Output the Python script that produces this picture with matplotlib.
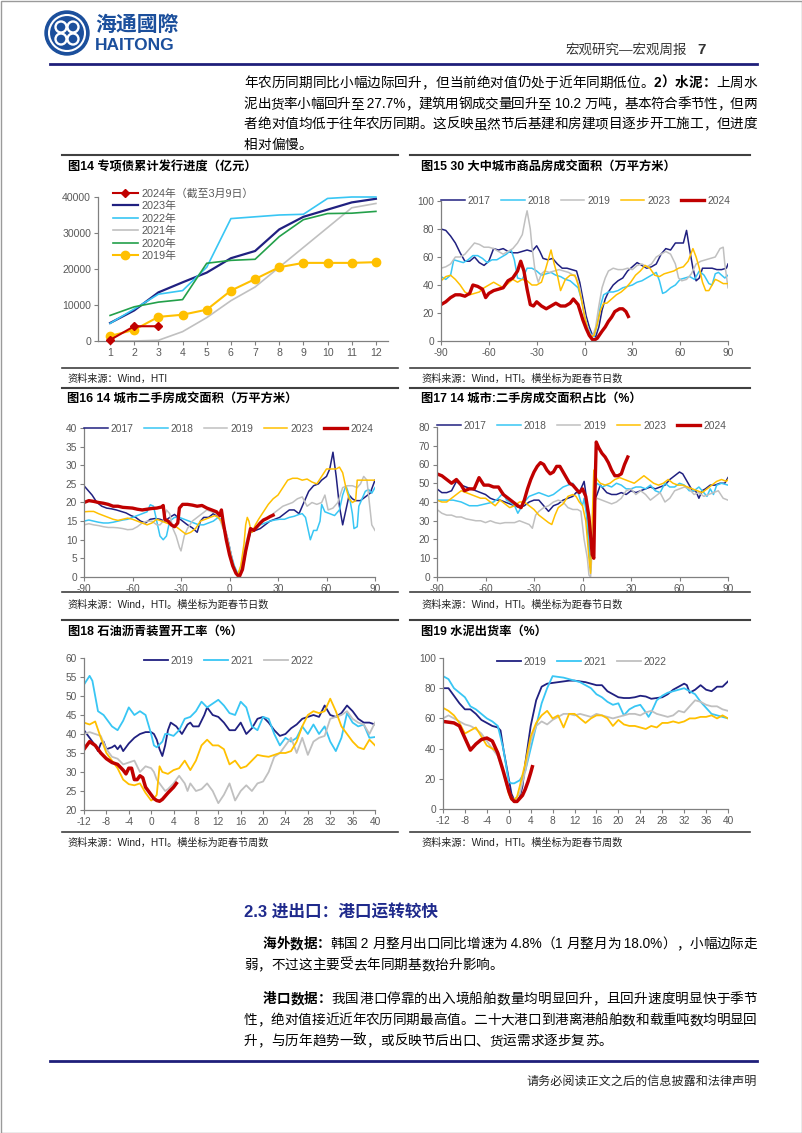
import matplotlib
matplotlib.use('Agg')
import matplotlib.pyplot as plt
from matplotlib.patches import Circle, Rectangle

plt.rcParams['font.family'] = ['Liberation Sans', 'Noto Sans CJK SC']
plt.rcParams['axes.unicode_minus'] = False

W, H = 802, 1133
NAVY = '#202080'
CYAN = '#38C6F4'
GRAY = '#C0C0C0'
YELLOW = '#FFC000'
RED = '#C00000'
GREEN = '#23A04A'
TXT = '#595959'

# ---- 图14 专项债累计发行进度 (亿元), x = 月份
months = list(range(1, 13))
bond_2024_m = [1, 2, 3]
bond_2024 = [300, 4100, 4100]
bond_2023 = [5000, 8500, 13500, 16300, 19000, 23000, 25000, 31000, 34500, 36500, 38500, 39500]
bond_2022 = [4900, 8900, 13000, 14000, 20500, 34000, 34500, 35000, 35200, 39600, 40000, 40000]
bond_2021 = [0, 0, 200, 2600, 6500, 11200, 15000, 20500, 26000, 31500, 37000, 38200]
bond_2020 = [7100, 9500, 10800, 11500, 21600, 22400, 22700, 29000, 33700, 35400, 35500, 36000]
bond_2019 = [1400, 3100, 6700, 7300, 8700, 14000, 17200, 20500, 21700, 21700, 21700, 21900]

# ---- 图15 30大中城市商品房成交面积, x = 距春节日数
c15_x17 = [-90,-87,-84,-81,-78,-75,-72,-69,-66,-63,-60,-57,-54,-51,-48,-45,-42,-39,-36,-33,-30,-28,-26,-23,-20,-17,-14,-11,-8,-5,-3,-1,1,3,5,7,9,11,13,15,18,21,24,27,30,33,36,39,42,45,48,51,54,57,60,62,64,66,68,70,72,74,77,80,83,86,89,90]
c15_y17 = [80,79,75,70,63,57,57,60,56,54,57,66,65,66,64,63,63,64,65,64,68,64,59,58,59,55,52,52,51,50,42,30,18,10,4,3,10,22,30,35,40,43,45,50,53,56,54,52,53,55,62,66,65,70,70,70,79,65,52,43,45,52,52,52,51,51,52,55]
c15_x18 = [-90,-87,-84,-82,-79,-76,-73,-70,-67,-64,-61,-58,-55,-52,-49,-46,-44,-42,-39,-36,-33,-30,-27,-24,-21,-18,-15,-12,-9,-6,-4,-2,0,2,4,6,8,10,12,15,18,21,24,27,30,33,36,39,42,45,47,49,51,54,57,60,63,66,69,72,75,78,80,82,84,86,88,90]
c15_y18 = [46,44,47,58,57,56,58,61,61,59,56,58,58,60,62,65,58,45,44,52,52,50,47,48,49,47,46,44,43,40,38,30,18,10,5,3,12,25,33,35,35,36,38,39,40,42,43,45,47,49,43,34,35,38,40,44,45,46,44,50,47,41,40,48,49,47,45,47]
c15_x19 = [-90,-87,-84,-81,-78,-75,-72,-69,-66,-63,-60,-57,-54,-51,-48,-45,-42,-39,-37,-36,-34,-33,-31,-29,-27,-25,-22,-19,-16,-13,-10,-7,-5,-3,-1,1,3,5,7,9,11,13,15,18,21,24,27,30,33,36,39,42,45,48,51,54,57,59,61,64,67,70,73,76,79,82,85,87,88,90]
c15_y19 = [52,53,55,60,60,62,66,70,69,67,67,66,64,62,64,66,70,76,88,93,80,68,50,42,48,50,49,50,51,50,49,47,45,38,25,14,6,3,10,25,38,45,50,52,51,51,52,51,54,55,53,55,60,62,64,62,55,45,43,44,48,55,57,58,59,60,66,67,55,38]
c15_x23 = [-90,-87,-84,-81,-78,-75,-72,-69,-66,-63,-60,-57,-54,-51,-48,-45,-42,-39,-36,-33,-30,-27,-25,-23,-21,-19,-17,-15,-12,-9,-6,-4,-2,0,2,4,6,8,10,12,14,17,20,23,26,29,32,35,38,41,44,47,50,53,56,59,62,65,68,70,72,74,76,78,80,82,84,87,90]
c15_y23 = [43,46,47,44,40,35,33,34,35,38,40,42,40,38,41,44,42,44,43,40,40,42,49,57,65,55,47,36,44,47,47,40,30,18,8,3,4,12,22,27,27,30,33,35,38,42,47,50,54,52,47,46,48,49,50,52,53,57,66,60,52,42,36,36,40,44,43,41,41]
c15_x24 = [-90,-87,-84,-81,-78,-75,-72,-70,-67,-64,-62,-60,-57,-54,-51,-48,-45,-42,-40,-38,-36,-34,-32,-30,-27,-24,-21,-18,-15,-12,-9,-7,-4,-1,1,3,5,6,8,11,13,15,17,19,22,24,26,27.5]
c15_y24 = [26,28,31,33,33,32,34,40,39,37,31,34,36,37,38,43,45,50,57,50,37,26,25,28,25,23,25,27,25,25,27,30,26,15,9,4,1,0.5,2,7,10,14,17,21,23,23,21,17.5]

# ---- 图16 14城市二手房成交面积
c16_x17 = [-90,-88,-85,-82,-79,-76,-73,-70,-67,-64,-61,-58,-55,-52,-49,-46,-43,-40,-37,-34,-32,-29,-26,-23,-20,-18,-16,-13,-10,-7,-5,-3,-1,1,3,5,7,9,11,13,16,19,22,25,28,31,34,37,40,43,46,49,52,55,57,60,62,64,66,68,70,72,74,76,78,81,84,87,90]
c16_y17 = [24.5,23.5,22,20,19,18.5,18.3,18,17.6,17.2,16.5,16,15,14.5,15.5,15.7,15.5,15,16,16.8,16,15,14,13.2,12,15,16,16,17,16,15,13,10,6,2,0.5,1,4,9,12,12.5,13,14,15,15.5,16,17,18,18,17,20,23,24.5,25,26,27,29,33.5,27,19,14,18,22,21,20.5,20.5,21.5,22.5,26]
c16_x18 = [-90,-87,-84,-81,-78,-75,-72,-69,-66,-63,-60,-57,-54,-51,-49,-47,-45,-43,-41,-39,-37,-34,-31,-28,-25,-22,-19,-16,-13,-10,-7,-5,-3,-1,1,3,5,7,9,11,13,16,19,22,25,28,31,34,37,40,43,45,47,48,50,52,54,56,57,59,62,65,68,70,72,74,76,77,79,80,82,84,86,88,90]
c16_y18 = [15,15.3,15,14.7,14.5,14.5,14.7,15,15.3,15.5,16,16.5,17,17.5,19.4,19,15,11,10,11,15,16,16,15.5,15,14.5,14,14,14.5,15,16,15.5,13,10,6,3,1,2,5,9,12,13,14,14.5,15,15.3,15.5,15.5,16,16.3,16.8,17,16,14,10,12.5,12.5,15,19.5,17.5,17,16.5,18,22,24.5,22,17,13,13.5,19,21,23,23.5,22.5,24]
c16_x19 = [-90,-87,-84,-81,-78,-75,-72,-69,-66,-63,-60,-57,-54,-51,-48,-45,-43,-41,-39,-37,-35,-33,-31,-30,-28,-26,-23,-20,-17,-14,-11,-8,-6,-4,-2,0,2,4,6,8,10,12,15,18,21,24,27,30,33,36,39,42,45,48,51,54,57,59,61,64,67,70,73,76,79,81,83,85,86,88,90]
c16_y19 = [14,14.3,14,13.8,13.5,13.3,13.3,13.2,13,12.7,12.8,13.5,14.5,15,15,14,14,15,18,17,13,11,8,7,11,13,15,16,17,18,17.5,17,15.5,13,12,8,4,1,1,5,9,12,13,14,15,16,17,18,19,19.5,20,21,21.5,19,20,19.5,20,22,18,18.5,20,24,24.5,24.5,24,25,27,26,22,14,12.5]
c16_x23 = [-90,-87,-84,-81,-78,-75,-72,-69,-66,-63,-60,-57,-54,-51,-48,-45,-42,-39,-36,-33,-30,-27,-24,-21,-18,-15,-12,-9,-7,-5,-3,-1,1,3,5,7,9,10,11,12,13,14,16,18,21,24,27,30,33,36,39,42,45,48,51,54,57,60,63,66,68,70,72,74,76,78,79,81,84,87,90]
c16_y23 = [17.5,17.6,17.6,17,16.5,16,15.5,15.2,15.5,15.8,15.5,15,14.5,14,14.5,15.5,15,14.5,14,13.5,12.5,11.5,12,13,15,15.5,16,16.5,16,15,12,9,5,2,0.5,3,9,14,16,15,13,12,14,15.5,17.5,19.5,21,22,24,26,26.5,26.5,26,26.3,25.5,25,27,29,29,29,29.5,28,24,21,20,20.5,26,26,26,26,26]
c16_x24 = [-90,-87,-84,-81,-78,-75,-72,-69,-66,-63,-60,-57,-54,-51,-48,-45,-42,-41,-40,-38,-36,-34,-32,-31,-29,-26,-23,-20,-17,-14,-11,-8,-6,-5,-4,-2,0,2,4,6,8,10,12,13,15,17,19,21,23,25,27]
c16_y24 = [20,20.5,20.3,20,19.8,19.5,19,19,18.7,18.6,18.5,18.2,18,18.2,18.4,18.5,18.8,19.2,15.5,15,14,13.5,14.5,18.5,19.5,19.5,19.3,19,19.2,18.5,18,17.5,16.5,18,15,10,6,3,1,0,2,7,11,13,12.5,13.5,14.5,15.3,15.7,16.2,16.6]

# ---- 图17 14城市二手房成交面积占比
c17_x17 = [-90,-87,-84,-81,-78,-75,-72,-69,-66,-63,-60,-57,-54,-51,-48,-45,-42,-39,-36,-33,-30,-27,-24,-21,-18,-15,-12,-9,-6,-4,-2,0,1,2,3,4,5,6,7,9,11,13,15,18,21,24,27,30,33,36,39,42,45,48,51,54,57,60,62,64,66,68,70,72,74,76,79,82,85,88,90]
c17_y17 = [47,45,45,46,51,49,48,47,46,45,44,42,41,41,40,39,38,37,38,40,41,41,38,35,38,39,41,42,43,45,45,49,51,45,30,15,5,20,40,44,49,47,45,44,44,45,44,46,45,46,47,48,47,48,49,52,54,56,55,52,49,46,46,42,46,47,49,49,50,50,53]
c17_x18 = [-90,-85,-80,-75,-70,-65,-60,-55,-52,-49,-47,-45,-42,-40,-38,-36,-33,-30,-27,-24,-21,-18,-15,-12,-9,-6,-3,-1,0,1,3,4,5,6,7,9,12,15,18,21,24,27,30,33,36,39,42,45,48,51,54,57,60,63,66,69,72,75,77,79,81,83,86,90]
c17_y18 = [41,41,41,40,38,38,39,40,42,45,41,40,38,34,37,40,43,44,45,44,43,44,46,48,49,50,46,40,38,42,30,15,3,20,45,50,48,49,48,50,49,47,47,48,48,47,49,46,45,50,48,48,50,49,46,46,48,45,43,47,44,49,50,49]
c17_x19 = [-90,-87,-84,-81,-78,-75,-72,-69,-66,-63,-60,-57,-54,-51,-48,-45,-42,-39,-36,-33,-31,-29,-27,-24,-21,-18,-15,-12,-9,-6,-3,-1,1,3,4,5,6,7,9,12,15,18,21,24,27,30,33,36,39,42,45,48,51,54,57,60,63,66,69,72,75,78,81,84,87,90]
c17_y19 = [36,34,33,33,32,32,31,30.5,30,30,29,30,29,28.5,29,29,29,30,29,28,26,33,35,37,38,40,41,40,37,36,36,35,20,10,1,0,15,40,42,41,40,39,40,42,46,47,44,46,44,41,43,45,40,42,46,47,48,47,44,45,43,44,45,46,42,41]
c17_x23 = [-90,-87,-84,-81,-78,-75,-72,-69,-66,-63,-60,-57,-54,-51,-48,-45,-42,-39,-36,-33,-30,-27,-24,-21,-19,-17,-15,-12,-9,-6,-4,-2,0,2,3,4,5,6,7,9,11,14,17,20,23,26,29,32,35,38,41,44,47,50,53,56,59,62,65,68,71,74,77,80,83,86,89,90]
c17_y23 = [41,40,40,42,44,46,45,44,43,42,42,40,38,41,39,37,38,40,40,38,36,33,31,29,28,33,37,39,43,44,43,40,38,30,20,10,2,30,57,52,50,49,50,52,53,52,51,50,52,54,52,50,49,50,52,50,49,49,48,47,46,45,47,49,51,52,51,52]
c17_x24 = [-90,-87,-84,-81,-78,-75,-73,-70,-67,-64,-61,-58,-55,-52,-49,-46,-43,-40,-38,-36,-34,-32,-30,-28,-26,-24,-22,-20,-18,-16,-14,-12,-10,-8,-6,-4,-2,0,2,4,5,6,7,7.7,8.5,10,12,14,16,18,20,22,24,26,28]
c17_y24 = [55,54,52,50,52,49,46,47,47,53,49,49,48,48,44,42,40,38,37,41,47,52,56,59,61,60,57,55,56,59,59,56,53,50,49,47,45,47,43,32,22,12,10,45,72,69,66,64,61,57,54,54,55,60,64]

# ---- 图18 石油沥青装置开工率, x = 距春节周数
c18_x19 = [-12,-11,-10,-9.5,-9,-8.5,-8,-7,-6.5,-6,-5.5,-5,-4,-3,-2,-1,0,0.5,1,1.5,2,2.5,3,3.5,4.5,5.5,6.5,7,7.5,8.5,9.5,10,10.5,11,12,13,14,15,16,16.5,17,18,19,20,21,22,23,24,25,26,27,28,29,30,31,32,33,34,35,36,37,38,39,40]
c18_y19 = [41,39,37,35.5,37.5,38,36,36.5,37,36,37,35.5,37.5,39,40,40.5,40.5,40,38.5,36,34.2,37,41,43,42,40,42.5,43,42,42,45,47,46,45,44.5,43,41,41,43,41.5,40,41.5,44,44.5,43,41,39.5,40,41.5,42.5,44,44.5,45,44.5,47.5,45,44.5,45.5,47.5,46,44,43,43,42.5]
c18_x21 = [-12,-11,-10.5,-10,-9.5,-8.5,-8,-7,-6,-5,-4,-3.5,-3,-2,-1,0,0.5,1,2,2.5,3,4,5,6,7,8,9,10,11,12,13,14,15,16,17,18,19,20,21,22,23,24,25,26,27,28,29,30,31,32,33,34,35,36,37,38,39,40]
c18_y21 = [53,55.3,54,50,46,45,44,42,41,43.5,47,46,45,46,45,40,37,36.5,38,40,40,39.5,41,44,44.5,46,48.5,47,48,49,47.5,45.5,45,48.5,47,42,41,44.5,44,40,37,39,38,39,42,40,42.5,40,42,38,35.5,39,45.5,43,42,42.5,39,39.2]
c18_x22 = [-12,-11,-10,-9,-8,-7,-6,-5,-4,-3,-2,-1,0,0.5,1,2,2.5,3,4,5,6,6.5,7,8,9,10,11,12,13,14,15,16,17,18,19,20,21,22,23,24,25,26,27,28,29,30,31,32,33,34,35,36,37,38,39,40]
c18_y22 = [40,40.5,40,39.5,36,34,33.5,32,32.5,33,30,31.5,31,30,28,26,25,25.5,27,29,27,25,27,25,25.5,27,25,21.8,24,27,22.5,25,26.5,25,27,27.5,30,34,35,37,39,35,39,34.5,38,39,39.5,44,44.5,45,46,44,43,42.5,40,43]
c18_x23 = [-12,-11,-10,-9,-8,-7,-6,-5,-4,-3,-2,-1,0,0.5,1,1.5,2,3,4,5,6,7,8,9,10,11,12,13,14,15,16,17,18,19,20,21,22,23,24,25,26,27,28,29,30,31,32,33,34,35,36,37,38,39,40]
c18_y23 = [43,42.5,43.3,39,35,33,31,28,26.8,26.5,27,24.5,22.5,23,24,31.5,30,29.5,30.5,31,33,30.5,33,37,38.5,37,37,36,32,33,31,31.5,33,34.5,34.2,34,34.5,35,35,35.5,38,42,45,46,45.5,46,49.3,46,42,40,38,36.5,36,38.5,37]
c18_x24 = [-12,-11,-10,-9,-8,-7,-6,-5,-4.5,-4,-3.5,-3,-2.5,-2,-1.5,-1,0,0.5,1,1.5,2,3,4,4.5]
c18_y24 = [36,38,37,35,33.5,32.5,32,30.5,29.5,31,31,28,28,29,28.5,26,24,23,22.5,22.3,22.8,24.5,26,27]

# ---- 图19 水泥出货率
c19_x19 = [-12,-11,-10,-9,-8,-7,-6,-5,-4,-3,-2,-1.5,-1,0,0.5,1,1.5,2,2.5,3,4,5,6,7,8,9,10,11,12,13,14,15,16,17,18,19,20,21,22,23,24,25,26,27,28,29,30,31,32,32.5,33,34,35,36,37,38,39,40]
c19_y19 = [80,80,75,70,66,66,63,59,57,55,54,52,40,20,10,6,5,8,15,30,55,72,81,83,83.5,84,84.5,85,85,84.5,84,83,82,82,78,76,74,73.5,73.5,74,75,74.5,73,73.5,74,76,79,81,83,82,77,79,82,79,78,81,81,84.5]
c19_x21 = [-12,-11,-10,-9,-8,-7,-6,-5,-4,-3,-2,-1,0,0.5,1,2,3,4,5,6,7,8,9,10,11,12,13,14,15,16,17,18,19,20,21,22,23,24,25,25.5,26,27,28,29,30,31,32,33,34,35,36,37,38,39,40]
c19_y21 = [88,86,80,77,74,68,66,63,60,58,55,40,18,17,17,19,25,40,55,70,80,88,87.5,87,86,85,84,82,80,76,74,71,69,70,62,66,68,69,64,61,64,72,75,77,78,79,80,78,76,71,67,63,62,61,60]
c19_x22 = [-12,-11,-10,-9,-8,-7,-6,-5,-4,-3,-2,-1,0,0.5,1,2,3,4,5,6,7,8,9,10,11,12,13,14,15,16,17,18,19,20,21,22,23,24,25,26,27,28,29,30,31,32,33,34,35,36,37,38,39,40]
c19_y22 = [60,62,60,58,56,55,53,50,45,40,35,25,12,8,6,10,25,45,55,58,56,59,61,63,63,62,63,62,61,63,62,61,60,61,62,63,63,62,64,65,63,62,61,62,65,64,68,72,71,69,68,68,66,65]
c19_x23 = [-12,-11,-10,-9,-8,-7,-6,-5,-4,-3,-2,-1,0,0.5,1,1.5,2,3,4,5,6,7,8,9,10,11,12,13,14,15,16,17,18,19,20,21,22,23,24,25,26,27,28,29,30,31,32,33,34,35,36,37,38,39,40]
c19_y23 = [67,65,62,57,50,52,54,48,42,40,38,25,10,6,6,8,15,30,48,57,62,65,60,62,54,63,63,60,57,60,62,62,60,55,59,56,55,55,54,53,55,54,57,57,58,57,58,60,60,61,61,62,60,62,60]
c19_x24 = [-12,-11,-10,-9,-8,-7,-6,-5,-4,-3,-2,-1,0,0.5,1,1.5,2,2.5,3,3.5,4,4.3]
c19_y24 = [58,57.5,57,55,47,39,43,46,47,45,37,25,12,7,5,5,7,9,13,18,24,28]


fig = plt.figure(figsize=(W / 100, H / 100), dpi=100)
bg = fig.add_axes([0, 0, 1, 1])
bg.set_xlim(0, W)
bg.set_ylim(H, 0)
bg.axis('off')
rend = fig.canvas.get_renderer()


def text_line(x0, x1, y, parts, size=9.8, justify=True, color='black'):
    # split into CJK chars / ascii runs, spread them to fill x0..x1
    toks = []
    for s, b in parts:
        buf = ''
        for ch in s:
            if ord(ch) < 128:
                buf += ch
            else:
                if buf:
                    toks.append((buf, b))
                    buf = ''
                toks.append((ch, b))
        if buf:
            toks.append((buf, b))
    arts, ws = [], []
    for s, b in toks:
        t = bg.text(x0, y, s, fontsize=size, fontweight='bold' if b else 'normal',
                    color=color, va='baseline', ha='left')
        arts.append(t)
        ws.append(t.get_window_extent(renderer=rend).width)
    gap = 0
    if justify and len(toks) > 1:
        gap = (x1 - x0 - sum(ws)) / (len(toks) - 1)
    x = x0
    for t, w in zip(arts, ws):
        t.set_x(x)
        x += w + gap


# page frame + header
bg.add_patch(Rectangle((0.5, 0.5), W - 1, H - 1, fill=False, ec='#9A9A9A', lw=1))
LOGO = '#1B4F9C'
bg.add_patch(Circle((67, 33), 22, color=LOGO))
bg.add_patch(Circle((67, 33), 18, fill=False, ec='white', lw=1.5))
for dx, dy in [(-6, -6), (6, -6), (-6, 6), (6, 6)]:
    bg.add_patch(Circle((67 + dx, 33 + dy), 5.5, fill=False, ec='white', lw=1.7))
bg.text(95, 25, '海通國際', fontsize=15, fontweight='bold', color=LOGO, va='center')
bg.text(95, 45, 'HAITONG', fontsize=12.5, fontweight='bold', color=LOGO, va='center')
bg.text(565, 50, '宏观研究—宏观周报', fontsize=9.7, color='#333333', va='center')
bg.text(706, 50, '7', fontsize=11, fontweight='bold', color='#333333', va='center', ha='right')
bg.plot([50, 757], [64, 64], color='#1F1F7A', lw=2)

# top paragraph
text_line(244, 757, 87, [('年农历同期同比小幅边际回升，但当前绝对值仍处于近年同期低位。', False), ('2）水泥：', True), ('上周水', False)])
text_line(244, 757, 108, [('泥出货率小幅回升至 27.7%，建筑用钢成交量回升至 10.2 万吨，基本符合季节性，但两', False)])
text_line(244, 757, 128, [('者绝对值均低于往年农历同期。这反映虽然节后基建和房建项目逐步开工施工，但进度', False)])
text_line(244, 757, 149, [('相对偏慢。', False)], justify=False)

# panel frames, titles and sources
for y0, y1 in [(155, 368), (388, 592), (620, 832)]:
    for xa, xb in [(62, 398), (410, 750)]:
        bg.plot([xa, xb], [y0, y0], color='#404040', lw=1.5)
        bg.plot([xa, xb], [y1, y1], color='#404040', lw=1.2)

titles = [(68, 167, '图14 专项债累计发行进度（亿元）'),
          (421, 167, '图15 30 大中城市商品房成交面积（万平方米）'),
          (67, 399, '图16 14 城市二手房成交面积（万平方米）'),
          (421, 399, '图17 14 城市:二手房成交面积占比（%）'),
          (68, 632, '图18 石油沥青装置开工率（%）'),
          (421, 632, '图19 水泥出货率（%）')]
for x, y, s in titles:
    bg.text(x, y, s, fontsize=8.8, fontweight='bold', color='black', va='center')

sources = [(67, 379, '资料来源：Wind，HTI'),
           (421, 379, '资料来源：Wind，HTI。横坐标为距春节日数'),
           (67, 605, '资料来源：Wind，HTI。横坐标为距春节日数'),
           (421, 605, '资料来源：Wind，HTI。横坐标为距春节日数'),
           (67, 843, '资料来源：Wind，HTI。横坐标为距春节周数'),
           (421, 843, '资料来源：Wind，HTI。横坐标为距春节周数')]
for x, y, s in sources:
    bg.text(x, y, s, fontsize=7.3, color='#222222', va='center')


def mk_ax(l, t, r, b, xlim, ylim, xticks, yticks, fs=7.3):
    ax = fig.add_axes([l / W, 1 - b / H, (r - l) / W, (b - t) / H])
    ax.patch.set_alpha(0)
    ax.set_xlim(*xlim)
    ax.set_ylim(*ylim)
    ax.set_xticks(xticks)
    ax.set_yticks(yticks)
    for s in ['top', 'right']:
        ax.spines[s].set_visible(False)
    for s in ['left', 'bottom']:
        ax.spines[s].set_color('#808080')
        ax.spines[s].set_linewidth(0.9)
    ax.tick_params(direction='out', length=3, width=0.8, colors='#808080',
                   labelcolor=TXT, labelsize=fs, pad=2)
    return ax


def leg(ax, x, y, loc, ncol, fs=7.4, spacing=0.1):
    lg = ax.legend(loc=loc, bbox_to_anchor=(x / W, 1 - y / H), bbox_transform=fig.transFigure,
                   ncol=ncol, frameon=False, fontsize=fs, handlelength=2.3, handletextpad=0.3,
                   columnspacing=1.0, borderpad=0, borderaxespad=0, labelspacing=spacing)
    for t in lg.get_texts():
        t.set_color(TXT)


# 图14
ax = mk_ax(98, 197, 388, 341, (0.5, 12.5), (0, 40000), months, range(0, 40001, 10000), fs=7.6)
ax.plot(bond_2024_m, bond_2024, color=RED, lw=1.5, marker='D', ms=4.5, label='2024年（截至3月9日）', zorder=6, clip_on=False)
ax.plot(months, bond_2023, color=NAVY, lw=1.6, label='2023年', clip_on=False)
ax.plot(months, bond_2022, color=CYAN, lw=1.2, label='2022年', clip_on=False)
ax.plot(months, bond_2021, color=GRAY, lw=1.2, label='2021年', clip_on=False)
ax.plot(months, bond_2020, color=GREEN, lw=1.2, label='2020年', clip_on=False)
ax.plot(months, bond_2019, color=YELLOW, lw=1.5, marker='o', ms=6, label='2019年', clip_on=False)
leg(ax, 113, 188, 'upper left', 1, fs=7.8, spacing=0.22)

# 图15
dticks = list(range(-90, 91, 30))
ax = mk_ax(441, 201, 728, 341, (-90, 90), (0, 100), dticks, range(0, 101, 20))
ax.plot(c15_x17, c15_y17, color=NAVY, lw=1.1, label='2017')
ax.plot(c15_x18, c15_y18, color=CYAN, lw=1.1, label='2018')
ax.plot(c15_x19, c15_y19, color=GRAY, lw=1.1, label='2019')
ax.plot(c15_x23, c15_y23, color=YELLOW, lw=1.1, label='2023')
ax.plot(c15_x24, c15_y24, color=RED, lw=2.4, label='2024')
leg(ax, 441, 201, 'center left', 5)

# 图16
ax = mk_ax(84, 428, 375, 577, (-90, 90), (0, 40), dticks, range(0, 41, 5))
ax.plot(c16_x17, c16_y17, color=NAVY, lw=1.1, label='2017')
ax.plot(c16_x18, c16_y18, color=CYAN, lw=1.1, label='2018')
ax.plot(c16_x19, c16_y19, color=GRAY, lw=1.1, label='2019')
ax.plot(c16_x23, c16_y23, color=YELLOW, lw=1.1, label='2023')
ax.plot(c16_x24, c16_y24, color=RED, lw=2.4, label='2024')
leg(ax, 84, 429, 'center left', 5)

# 图17
ax = mk_ax(437, 427, 728, 577, (-90, 90), (0, 80), dticks, range(0, 81, 10))
ax.plot(c17_x17, c17_y17, color=NAVY, lw=1.1, label='2017')
ax.plot(c17_x18, c17_y18, color=CYAN, lw=1.1, label='2018')
ax.plot(c17_x19, c17_y19, color=GRAY, lw=1.1, label='2019')
ax.plot(c17_x23, c17_y23, color=YELLOW, lw=1.1, label='2023')
ax.plot(c17_x24, c17_y24, color=RED, lw=2.4, label='2024')
leg(ax, 437, 426, 'center left', 5)

# 图18
wticks = list(range(-12, 41, 4))
ax = mk_ax(84, 658, 375, 810, (-12, 40), (20, 60), wticks, range(20, 61, 5))
ax.plot(c18_x19, c18_y19, color=NAVY, lw=1.3, label='2019')
ax.plot(c18_x21, c18_y21, color=CYAN, lw=1.3, label='2021')
ax.plot(c18_x22, c18_y22, color=GRAY, lw=1.3, label='2022')
ax.plot(c18_x23, c18_y23, color=YELLOW, lw=1.3, label='_nolegend_')
ax.plot(c18_x24, c18_y24, color=RED, lw=2.5, label='_nolegend_')
leg(ax, 229, 661, 'center', 3)

# 图19
ax = mk_ax(443, 658, 728, 809, (-12, 40), (0, 100), wticks, range(0, 101, 20))
ax.plot(c19_x19, c19_y19, color=NAVY, lw=1.3, label='2019')
ax.plot(c19_x21, c19_y21, color=CYAN, lw=1.3, label='2021')
ax.plot(c19_x22, c19_y22, color=GRAY, lw=1.3, label='2022')
ax.plot(c19_x23, c19_y23, color=YELLOW, lw=1.3, label='_nolegend_')
ax.plot(c19_x24, c19_y24, color=RED, lw=2.5, label='_nolegend_')
leg(ax, 582, 662, 'center', 3)

# section 2.3
bg.text(244, 913, '2.3 进出口：港口运转较快', fontsize=12, fontweight='bold', color='#1F2A8C', va='center')
text_line(263, 757, 948, [('海外数据：', True), ('韩国 2 月整月出口同比增速为 4.8%（1 月整月为 18.0%），小幅边际走', False)])
text_line(244, 757, 969, [('弱，不过这主要受去年同期基数抬升影响。', False)], justify=False)
text_line(263, 757, 1003, [('港口数据：', True), ('我国港口停靠的出入境船舶数量均明显回升，且回升速度明显快于季节', False)])
text_line(244, 757, 1024, [('性，绝对值接近近年农历同期最高值。二十大港口到港离港船舶数和载重吨数均明显回', False)])
text_line(244, 757, 1045, [('升，与历年趋势一致，或反映节后出口、货运需求逐步复苏。', False)], justify=False)

bg.plot([50, 757], [1061, 1061], color='#1F1F7A', lw=2)
bg.text(757, 1082, '请务必阅读正文之后的信息披露和法律声明', fontsize=8.7, color='#222222', va='center', ha='right')

fig.savefig('out.png', dpi=100)
